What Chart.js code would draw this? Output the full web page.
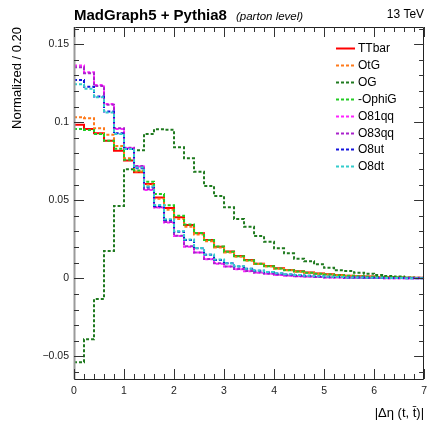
<!DOCTYPE html>
<html>
<head>
<meta charset="utf-8">
<script src="https://cdn.jsdelivr.net/npm/chart.js@4/dist/chart.umd.min.js"></script>
<style>
  html, body { margin: 0; padding: 0; background: #ffffff; }
  canvas { display: block; }
</style>
</head>
<body>
<canvas id="chart" width="433" height="423"></canvas>
<script>
// Bin edges of |Δη(t, t̄)| (width 0.2)
const binEdges = [0.0, 0.2, 0.4, 0.6, 0.8, 1.0, 1.2, 1.4, 1.6, 1.8, 2.0, 2.2, 2.4, 2.6, 2.8,
  3.0, 3.2, 3.4, 3.6, 3.8, 4.0, 4.2, 4.4, 4.6, 4.8, 5.0, 5.2, 5.4, 5.6, 5.8, 6.0, 6.2,
  6.4, 6.6, 6.8, 7.0];

// Normalized bin contents, one value per bin
const ttbar = [0.0983, 0.0957, 0.0929, 0.0882, 0.0818, 0.0754, 0.0680, 0.0604, 0.0517, 0.0451,
  0.0391, 0.0342, 0.0288, 0.0246, 0.0203, 0.0171, 0.0143, 0.0117, 0.0094, 0.0079, 0.0064,
  0.0053, 0.0045, 0.0037, 0.0031, 0.0026, 0.0021, 0.0017, 0.0014, 0.0011, 0.0009, 0.0007,
  0.0005, 0.0004, 0.0003];
const otG = [0.1032, 0.1026, 0.0962, 0.0919, 0.0848, 0.0769, 0.0685, 0.0600, 0.0510, 0.0440,
  0.0380, 0.0330, 0.0280, 0.0238, 0.0198, 0.0165, 0.0138, 0.0113, 0.0092, 0.0076, 0.0062,
  0.0051, 0.0042, 0.0035, 0.0029, 0.0024, 0.0019, 0.0015, 0.0012, 0.0010, 0.0008, 0.0006,
  0.0005, 0.0003, 0.0002];
const oG = [-0.0538, -0.0391, -0.0133, 0.0175, 0.0464, 0.0699, 0.0820, 0.0925, 0.0955, 0.0952,
  0.0840, 0.0769, 0.0683, 0.0592, 0.0528, 0.0455, 0.0380, 0.0331, 0.0271, 0.0235, 0.0192,
  0.0160, 0.0126, 0.0110, 0.0090, 0.0068, 0.0051, 0.0047, 0.0036, 0.0030, 0.0021, 0.0015,
  0.0011, 0.0006, 0.0004];
const minusOphiG = [0.0957, 0.0950, 0.0925, 0.0882, 0.0830, 0.0760, 0.0690, 0.0619, 0.0540, 0.0468,
  0.0401, 0.0345, 0.0290, 0.0245, 0.0204, 0.0170, 0.0141, 0.0116, 0.0094, 0.0078, 0.0063,
  0.0052, 0.0043, 0.0036, 0.0030, 0.0025, 0.0020, 0.0016, 0.0013, 0.0010, 0.0008, 0.0006,
  0.0005, 0.0003, 0.0002];
const o81qq = [0.1363, 0.1320, 0.1239, 0.1117, 0.0957, 0.0833, 0.0716, 0.0566, 0.0453, 0.0357,
  0.0271, 0.0203, 0.0165, 0.0122, 0.0094, 0.0075, 0.0058, 0.0046, 0.0036, 0.0029, 0.0022,
  0.0017, 0.0013, 0.0010, 0.0008, 0.0006, 0.0005, 0.0004, 0.0003, 0.0002, 0.0002, 0.0001,
  0.0001, 0.0001, 0.0001];
const o83qq = [0.1352, 0.1314, 0.1232, 0.1112, 0.0962, 0.0836, 0.0720, 0.0570, 0.0456, 0.0360,
  0.0272, 0.0206, 0.0166, 0.0124, 0.0096, 0.0076, 0.0059, 0.0047, 0.0037, 0.0029, 0.0023,
  0.0018, 0.0014, 0.0011, 0.0008, 0.0006, 0.0005, 0.0004, 0.0003, 0.0002, 0.0002, 0.0001,
  0.0001, 0.0001, 0.0001];
const o8ut = [0.1271, 0.1228, 0.1164, 0.1068, 0.0929, 0.0829, 0.0705, 0.0583, 0.0464, 0.0374,
  0.0299, 0.0246, 0.0192, 0.0151, 0.0118, 0.0096, 0.0076, 0.0061, 0.0049, 0.0039, 0.0031,
  0.0025, 0.0020, 0.0016, 0.0013, 0.0010, 0.0008, 0.0006, 0.0005, 0.0004, 0.0003, 0.0002,
  0.0002, 0.0001, 0.0001];
const o8dt = [0.1244, 0.1215, 0.1160, 0.1062, 0.0925, 0.0828, 0.0710, 0.0588, 0.0470, 0.0378,
  0.0302, 0.0248, 0.0195, 0.0153, 0.0120, 0.0097, 0.0077, 0.0062, 0.0050, 0.0040, 0.0032,
  0.0026, 0.0021, 0.0017, 0.0013, 0.0010, 0.0008, 0.0006, 0.0005, 0.0004, 0.0003, 0.0002,
  0.0002, 0.0001, 0.0001];

const seriesNames = ['TTbar', 'OtG', 'OG', '-OphiG', 'O81qq', 'O83qq', 'O8ut', 'O8dt'];
const seriesValues = [ttbar, otG, oG, minusOphiG, o81qq, o83qq, o8ut, o8dt];
const seriesColors = ['#ff0000', '#ff7a1a', '#1f7a1f', '#22cc22', '#ff22ff', '#aa22cc', '#1414dd', '#33cccc'];
const seriesDashes = [[], [3, 2], [3, 2], [3, 2], [3, 2], [3, 2], [3, 2], [3, 2]];

const xTitle = '|\u0394\u03b7 (t, t\u0304)|';
const yTitle = 'Normalized / 0.20';
const FONT = "'Liberation Sans', Arial, Helvetica, sans-serif";

// Step outline: each bin's value is held from its left edge to the next edge
function histPoints(values) {
  return binEdges.map((x, i) => ({ x: x, y: values[Math.min(i, values.length - 1)] }));
}

const datasets = seriesValues.map((vals, i) => ({
  label: seriesNames[i],
  data: histPoints(vals),
  borderColor: seriesColors[i],
  borderWidth: 2,
  borderDash: seriesDashes[i],
  stepped: 'before',
  pointRadius: 0,
  fill: false,
  order: seriesValues.length - i
}));

// ROOT-style frame with inward major/minor ticks on all four sides
const framePlugin = {
  id: 'frameTicks',
  afterDatasetsDraw(chart) {
    const { ctx, chartArea: a, scales: { x, y } } = chart;
    ctx.save();
    ctx.lineWidth = 1;
    ctx.strokeStyle = '#222';
    ctx.setLineDash([]);
    ctx.beginPath();
    ctx.rect(Math.round(a.left) + 0.5, Math.round(a.top) + 0.5,
             Math.round(a.right - a.left) - 1, Math.round(a.bottom - a.top));
    ctx.stroke();
    // left axis line drawn slightly heavier in grey
    ctx.strokeStyle = '#9a9a9a';
    ctx.lineWidth = 2;
    ctx.beginPath();
    ctx.moveTo(Math.round(a.left) + 0.5, a.top);
    ctx.lineTo(Math.round(a.left) + 0.5, a.bottom);
    ctx.stroke();

    ctx.strokeStyle = '#333';
    ctx.lineWidth = 1;
    ctx.beginPath();
    for (let k = 0; k <= 35; k++) {
      const v = k * 0.2;
      const px = Math.round(x.getPixelForValue(v)) + 0.5;
      const len = (k % 5 === 0) ? 10 : 5;
      ctx.moveTo(px, a.bottom); ctx.lineTo(px, a.bottom - len);
      ctx.moveTo(px, a.top); ctx.lineTo(px, a.top + len);
    }
    for (let k = -6; k <= 16; k++) {
      const v = k * 0.01;
      if (v < y.min || v > y.max) continue;
      const py = Math.round(y.getPixelForValue(v)) + 0.5;
      const len = (k % 5 === 0) ? 10 : 5;
      ctx.moveTo(a.left, py); ctx.lineTo(a.left + len, py);
      ctx.moveTo(a.right, py); ctx.lineTo(a.right - len, py);
    }
    ctx.stroke();
    ctx.restore();
  },
  afterDraw(chart) {
    const { ctx, chartArea: a } = chart;
    ctx.save();
    // header
    ctx.fillStyle = '#000';
    ctx.textBaseline = 'alphabetic';
    ctx.textAlign = 'left';
    ctx.font = 'bold 15px ' + FONT;
    ctx.fillText('MadGraph5 + Pythia8', a.left, 20);
    ctx.font = 'italic 11.5px ' + FONT;
    ctx.fillText('(parton level)', 236, 20);
    ctx.font = '12px ' + FONT;
    ctx.textAlign = 'right';
    ctx.fillText('13 TeV', a.right, 18);

    // legend built from the datasets
    ctx.textAlign = 'left';
    ctx.textBaseline = 'middle';
    ctx.font = '12px ' + FONT;
    chart.data.datasets.forEach((ds, i) => {
      const yy = Math.round(48 + i * 16.9) + 0.5;
      ctx.strokeStyle = ds.borderColor;
      ctx.lineWidth = 2;
      ctx.setLineDash(ds.borderDash);
      ctx.beginPath();
      ctx.moveTo(336, yy);
      ctx.lineTo(355, yy);
      ctx.stroke();
      ctx.setLineDash([]);
      ctx.fillStyle = '#000';
      ctx.fillText(ds.label, 358, yy);
    });
    ctx.restore();
  }
};

new Chart(document.getElementById('chart'), {
  type: 'line',
  data: { datasets: datasets },
  options: {
    responsive: false,
    animation: false,
    devicePixelRatio: 1,
    layout: { padding: { top: 27, right: 3, left: 0, bottom: 0 } },
    plugins: { legend: { display: false }, tooltip: { enabled: false }, title: { display: false } },
    elements: { line: { tension: 0 } },
    scales: {
      x: {
        type: 'linear',
        min: 0,
        max: 7,
        afterFit: (s) => { s.height = 44; },
        grid: { display: false, drawTicks: false },
        border: { display: false },
        ticks: {
          stepSize: 1,
          maxRotation: 0,
          padding: 6,
          color: '#222',
          font: { family: FONT, size: 10.5 },
          callback: (v) => String(Math.round(v))
        },
        title: {
          display: true,
          text: xTitle,
          align: 'end',
          color: '#000',
          padding: { top: 0, bottom: 2 },
          font: { family: FONT, size: 13 }
        }
      },
      y: {
        type: 'linear',
        min: -0.0645,
        max: 0.161,
        afterFit: (s) => { s.width = 74; },
        grid: { display: false, drawTicks: false },
        border: { display: false },
        ticks: {
          stepSize: 0.05,
          includeBounds: false,
          padding: 5,
          color: '#222',
          font: { family: FONT, size: 10.5 },
          callback: (v) => String(Math.round(v * 100) / 100).replace('-', '\u2212')
        },
        title: {
          display: true,
          text: yTitle,
          align: 'end',
          color: '#000',
          padding: { top: 10, bottom: 0 },
          font: { family: FONT, size: 13 }
        }
      }
    }
  },
  plugins: [framePlugin]
});
</script>
</body>
</html>
